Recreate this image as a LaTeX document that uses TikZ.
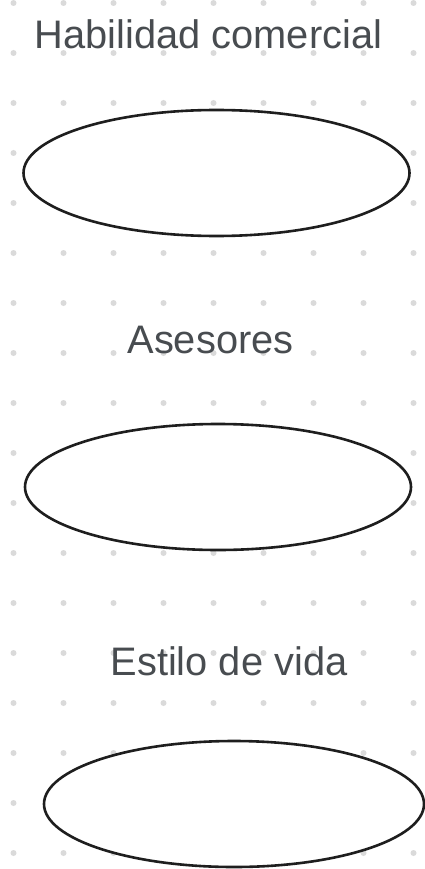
\documentclass[tikz,border=0pt]{standalone}
\usepackage{fontspec}
\setmainfont{Liberation Sans}
\usetikzlibrary{shapes.geometric}
\definecolor{dotgray}{HTML}{DADADA}
\definecolor{txtgray}{HTML}{484C50}
\definecolor{linegray}{HTML}{1E1E1E}
\begin{document}
\begin{tikzpicture}[x=1pt,y=-1pt,
  lbl/.style={anchor=base,inner sep=0pt,text=txtgray,font=\fontsize{39.8}{46}\selectfont},
  oval/.style={ellipse,draw=linegray,fill=white,line width=2.6pt,inner sep=0pt,minimum width=386pt,minimum height=126pt}]
\fill[white] (0,0) rectangle (424,869);
\useasboundingbox (0,0) rectangle (424,869);
\foreach \i in {0,...,8}{
  \foreach \j in {0,...,17}{
    \fill[dotgray] (13.5+50*\i,3+50*\j) circle (3);
  }
}
\node[lbl] (t1) at (208.5,49) {Habilidad comercial};
\node[oval] (e1) at (216.5,173) {};
\node[lbl] (t2) at (210.5,353) {Asesores};
\node[oval] (e2) at (218,487) {};
\node[lbl] (t3) at (229,675) {Estilo de vida};
\node[oval,minimum width=380pt] (e3) at (234,804) {};
\end{tikzpicture}
\end{document}
